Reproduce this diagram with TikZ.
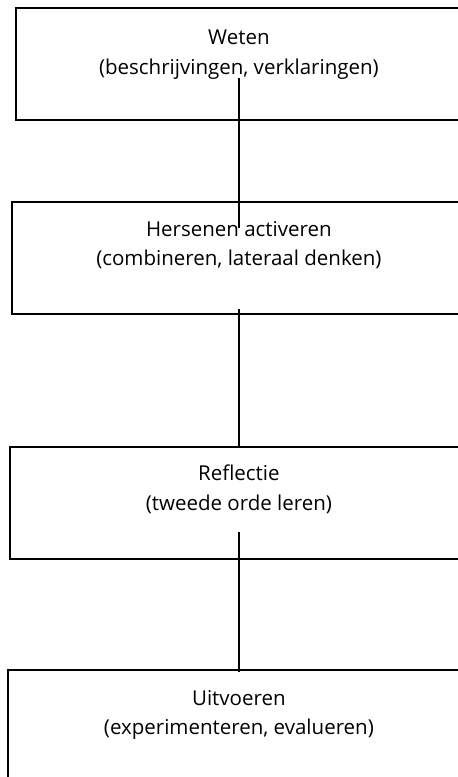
\documentclass[tikz,border=0pt]{standalone}
\usepackage{fontspec}
\setmainfont{Open Sans}
\usetikzlibrary{positioning}

\begin{document}
\begin{tikzpicture}[
        x=1pt, y=-1pt,
        stagebox/.style={rectangle, draw, line width=1.8pt, anchor=north west, minimum height=112pt},
        stagetext/.style={align=center, inner sep=2pt, font=\fontsize{20.5}{29.5}\selectfont},
        link/.style={line width=1.5pt}
    ]
        \useasboundingbox (0,0) rectangle (458,777);
        \clip (0,0) rectangle (458,777);

        \node[stagebox, minimum width=446pt] (weten) at (15,7) {};
        \node[stagebox, minimum width=454pt] (hersenen) at (11,201) {};
        \node[stagebox, minimum width=458pt] (reflectie) at (9,446) {};
        \node[stagebox, minimum width=462pt, minimum height=120pt] (uitvoeren) at (7,669) {};

        \node[stagetext, below=21pt of weten.north] (wetenT) {Weten\\(beschrijvingen, verklaringen)};
        \node[stagetext, below=18pt of hersenen.north] (hersenenT) {Hersenen activeren\\(combineren, lateraal denken)};
        \node[stagetext, below=17pt of reflectie.north] (reflectieT) {Reflectie\\(tweede orde leren)};
        \node[stagetext, below=19pt of uitvoeren.north] (uitvoerenT) {Uitvoeren\\(experimenteren, evalueren)};

        \draw[link, shorten <=-3pt, shorten >=-9pt] (wetenT.south) -- (hersenenT.north);
        \draw[link, shorten <=38pt, shorten >=17pt] (hersenenT.south) -- (reflectieT.north);
        \draw[link, shorten <=16pt, shorten >=16pt] (reflectieT.south) -- (uitvoerenT.north);
    \end{tikzpicture}
\end{document}
